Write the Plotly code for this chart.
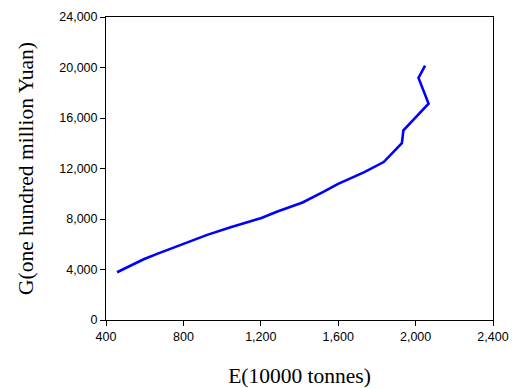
import plotly.graph_objects as go

E = [457, 509, 595, 664, 768, 923, 1044, 1200, 1286, 1416, 1528, 1597, 1735, 1835, 1929, 1937, 2067, 2015, 2049]
G = [3782, 4152, 4813, 5237, 5818, 6744, 7352, 8067, 8596, 9310, 10183, 10764, 11716, 12510, 14017, 15022, 17138, 19175, 20153]

x_ticks = [400, 800, 1200, 1600, 2000, 2400]
y_ticks = [0, 4000, 8000, 12000, 16000, 20000, 24000]

fig = go.Figure()
fig.add_trace(go.Scatter(x=E, y=G, mode="lines",
                         line=dict(color="#0000FF", width=2.6),
                         showlegend=False))

title_font = dict(family="Liberation Serif, Times New Roman", size=21.5, color="black")

axis_common = dict(showline=True, linecolor="black", linewidth=1, mirror=True,
                   ticks="outside", ticklen=5, tickcolor="black", tickwidth=1,
                   showgrid=False, zeroline=False,
                   tickfont=dict(family="Liberation Sans, Arial", size=12.5, color="black"),
                   tickformat=",d")

fig.update_xaxes(range=[400, 2400], tickvals=x_ticks,
                 title=dict(text="E(10000 tonnes)", font=title_font, standoff=26),
                 automargin=False, **axis_common)
fig.update_yaxes(range=[0, 24000], tickvals=y_ticks,
                 title=dict(text="G(one hundred million Yuan)", font=title_font, standoff=19),
                 automargin=False, **axis_common)

# page body has an 8px default margin, so the figure is sized/offset to compensate
fig.update_layout(
    width=509, height=380,
    margin=dict(l=98, r=24, t=9, b=68),
    paper_bgcolor="white", plot_bgcolor="white",
)

fig.write_html("out.html")
